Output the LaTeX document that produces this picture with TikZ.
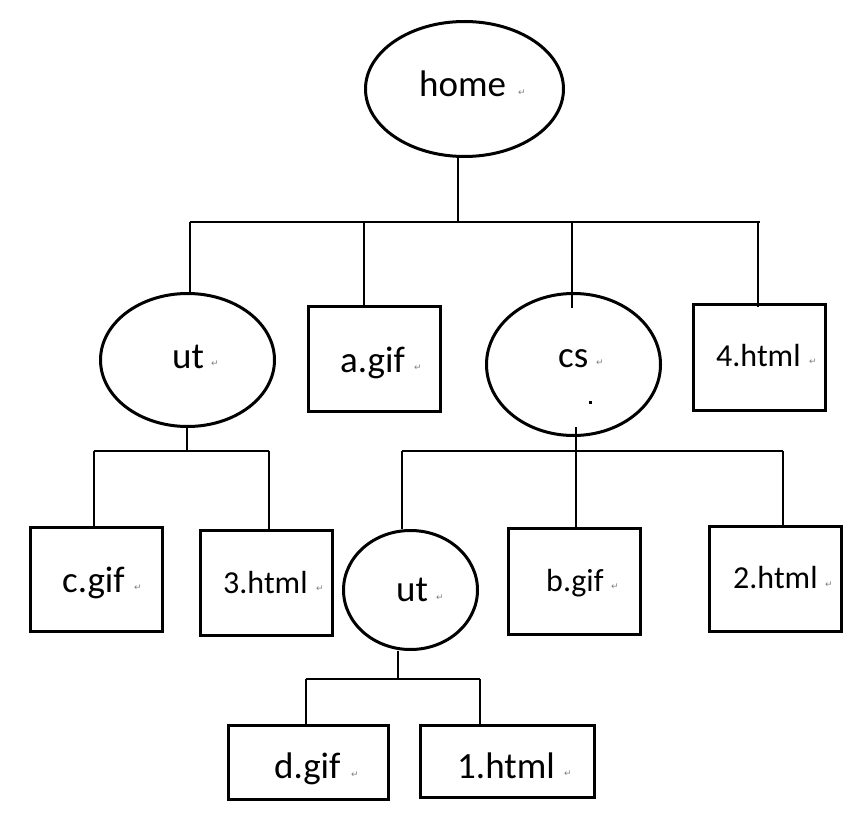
\documentclass[tikz,border=0pt]{standalone}
\usepackage{fontspec}
\setmainfont{Carlito}
\newfontfamily\symfont{DejaVu Sans}
\usetikzlibrary{shapes.geometric}
\begin{document}
\begin{tikzpicture}[x={(1pt,0pt)},y={(0pt,-1pt)},
  oval/.style={draw,ellipse,line width=3pt,inner sep=0pt},
  box/.style={draw,rectangle,line width=3pt,inner sep=0pt},
  link/.style={line width=2pt},
  big/.style={font=\fontsize{37}{42}\selectfont,anchor=base west,inner sep=0pt},
  small/.style={font=\fontsize{32}{37}\selectfont,anchor=base west,inner sep=0pt},
  retmark/.style={font=\symfont\fontsize{9}{9}\selectfont,text=gray,inner sep=0pt}]
\useasboundingbox (0,0) rectangle (857,813);
% shapes
\node[oval,minimum width=198,minimum height=135] (home) at (464.5,89) {};
\node[oval,minimum width=174,minimum height=133] (utl) at (187.5,360) {};
\node[box,minimum width=132,minimum height=105] (agif) at (374.5,359) {};
\node[oval,minimum width=174,minimum height=142] (cs) at (573.5,364.5) {};
\node[box,minimum width=132,minimum height=106] (htmlfour) at (759.5,357.5) {};
\node[box,minimum width=132,minimum height=104] (cgif) at (96.5,579.5) {};
\node[box,minimum width=132,minimum height=105] (htmlthree) at (266.5,583) {};
\node[oval,minimum width=134,minimum height=119] (utb) at (410.5,590) {};
\node[box,minimum width=132,minimum height=106] (bgif) at (574.5,581.5) {};
\node[box,minimum width=132,minimum height=105] (htmltwo) at (775.5,579) {};
\node[box,minimum width=160,minimum height=74] (dgif) at (308.5,762.5) {};
\node[box,minimum width=174,minimum height=72] (htmlone) at (507.5,761.5) {};
% texts
\node[big] (thome) at (419,97) {home};
\node[big] (tutl) at (172,368) {ut};
\node[big] (tagif) at (340,372) {a.gif};
\node[big] (tcs) at (558,367) {cs};
\node[small] (thtmlfour) at (716,366) {4.html};
\node[big] (tcgif) at (62,592) {c.gif};
\node[small] (thtmlthree) at (223,593) {3.html};
\node[big] (tutb) at (396,601) {ut};
\node[small] (tbgif) at (546,591) {b.gif};
\node[small] (thtmltwo) at (733,588) {2.html};
\node[big] (tdgif) at (274,778) {d.gif};
\node[big] (thtmlone) at (457,778) {1.html};
% return marks
\node[retmark] (rhome) at (522,93) {↵};
\node[retmark] (rutl) at (215,364) {↵};
\node[retmark] (ragif) at (418,368) {↵};
\node[retmark] (rcs) at (600,363) {↵};
\node[retmark] (rhtmlfour) at (813,362) {↵};
\node[retmark] (rcgif) at (138,588) {↵};
\node[retmark] (rhtmlthree) at (320,589) {↵};
\node[retmark] (rutb) at (440,598) {↵};
\node[retmark] (rbgif) at (615,587) {↵};
\node[retmark] (rhtmltwo) at (829,585) {↵};
\node[retmark] (rdgif) at (355,775) {↵};
\node[retmark] (rhtmlone) at (568,774) {↵};
\fill (589,400.5) rectangle (592,403.5);
% top level
\coordinate (busl) at (190,222);
\coordinate (busr) at (760,222);
\draw[link] (home.265) -- (home.265 |- busl);
\draw[link] (busl) -- (busr);
\draw[link] (busl) -- (busl |- utl.north);
\coordinate (ta) at (364,222);
\draw[link] (ta) -- ([yshift=-3pt]ta |- agif.north);
\coordinate (tc) at (572,222);
\draw[link] (tc) -- ([yshift=-16pt]tc |- cs.north);
\coordinate (tf) at (758,222);
\draw[link] (tf) -- ([yshift=-4pt]tf |- htmlfour.north);
% under ut
\coordinate (ul) at (94,451);
\coordinate (ur) at (269,451);
\coordinate (us) at (187,451);
\draw[link] (us) -- (us |- utl.south);
\draw[link] (ul) -- (ur);
\draw[link] (ul) -- (ul |- cgif.north);
\draw[link] (ur) -- (ur |- htmlthree.north);
% under cs
\coordinate (cl) at (402,451);
\coordinate (cr) at (783,451);
\coordinate (cstem) at (576,427);
\draw[link] (cstem) -- (cstem |- bgif.north);
\draw[link] (cl) -- (cr);
\draw[link] (cl) -- (cl |- utb.north);
\draw[link] (cr) -- (cr |- htmltwo.north);
% under bottom ut
\coordinate (dl) at (306,679);
\coordinate (dr) at (480,679);
\coordinate (ds) at (398,679);
\draw[link] (ds) -- (ds |- utb.south);
\draw[link] (dl) -- (dr);
\draw[link] (dl) -- (dl |- dgif.north);
\draw[link] (dr) -- (dr |- htmlone.north);
\end{tikzpicture}
\end{document}
